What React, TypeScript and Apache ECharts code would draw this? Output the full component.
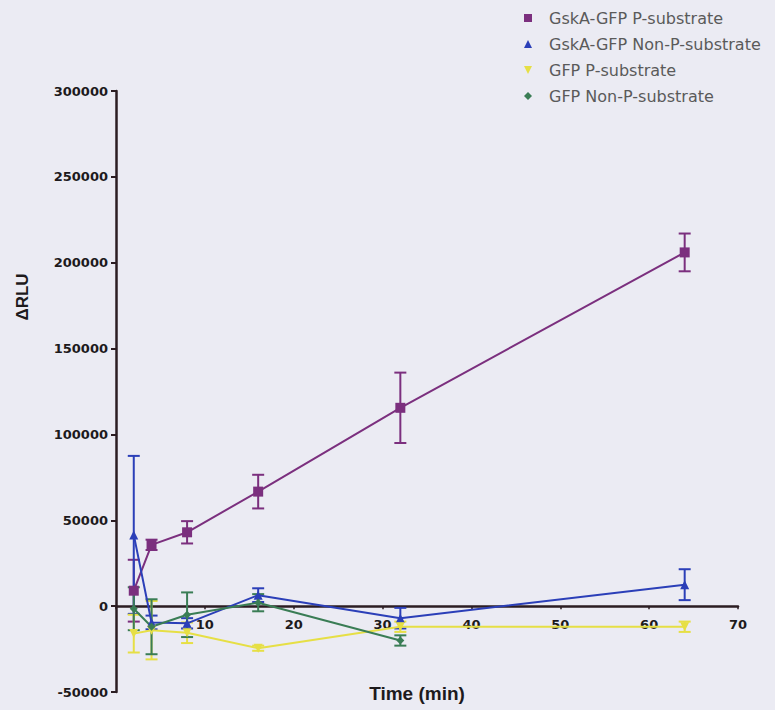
import React, { useEffect, useRef } from "react";
import * as echarts from "echarts";

const times = [2, 4, 8, 16, 32, 64];
const gskaP = [9000, 35700, 43000, 66700, 115500, 206000];
const gskaPErr = [18000, 3000, 6500, 9800, 20500, 11000];
const gskaNonP = [41500, -9500, -10000, 6400, -7000, 12500];
const gskaNonPErr = [46000, 4000, 3000, 4000, 6000, 9000];
const gfpP = [-16000, -14000, -15500, -24500, -12000, -12000];
const gfpPErr = [11000, 17000, 6000, 1500, 3000, 3000];
const gfpNonPTimes = [2, 4, 8, 16, 32];
const gfpNonP = [-1500, -12000, -5000, 2000, -20000];
const gfpNonPErr = [12500, 16000, 13000, 5000, 3000];

const seriesNames = [
  "GskA-GFP P-substrate",
  "GskA-GFP Non-P-substrate",
  "GFP P-substrate",
  "GFP Non-P-substrate",
];
const colors = ["#7b2f7e", "#2b3fb8", "#e6df45", "#3a7d55"];
const symbols = ["rect", "triangle", "path://M0,0 L10,0 L5,10 Z", "diamond"];
const symbolSizes = [10, 9, 9, 8];

const Y_MIN = -50000;
const Y_MAX = 300000;
const GRID_TOP = 91;
const GRID_BOTTOM = 18;
const CHART_H = 710;

export default function App() {
  const ref = useRef<HTMLDivElement>(null);
  useEffect(() => {
    if (!ref.current) return;
    const chart = echarts.init(ref.current, undefined, { renderer: "svg" });
    const sets = [
      { t: times, v: gskaP, e: gskaPErr },
      { t: times, v: gskaNonP, e: gskaNonPErr },
      { t: times, v: gfpP, e: gfpPErr },
      { t: gfpNonPTimes, v: gfpNonP, e: gfpNonPErr },
    ];
    const lineSeries: any[] = sets.map((s, i) => ({
      name: seriesNames[i],
      type: "line",
      data: s.t.map((t, j) => [t, s.v[j]]),
      symbol: symbols[i],
      symbolSize: symbolSizes[i],
      showSymbol: true,
      lineStyle: { color: colors[i], width: 2 },
      itemStyle: { color: colors[i] },
      z: 3,
    }));
    const errSeries: any[] = sets.map((s, i) => ({
      name: seriesNames[i] + " error",
      type: "custom",
      data: s.t.map((t, j) => [t, s.v[j], s.e[j]]),
      encode: { x: 0, y: 1 },
      z: 2,
      renderItem: (params: any, api: any) => {
        const x = api.value(0);
        const y = api.value(1);
        const e = api.value(2);
        const top = api.coord([x, y + e]);
        const bot = api.coord([x, y - e]);
        const w = 6;
        const style = { stroke: colors[i], lineWidth: 2 };
        return {
          type: "group",
          children: [
            { type: "line", shape: { x1: top[0], y1: top[1], x2: bot[0], y2: bot[1] }, style },
            { type: "line", shape: { x1: top[0] - w, y1: top[1], x2: top[0] + w, y2: top[1] }, style },
            { type: "line", shape: { x1: bot[0] - w, y1: bot[1], x2: bot[0] + w, y2: bot[1] }, style },
          ],
        };
      },
    }));
    const axisColor = "#2b1d22";
    const plotH = CHART_H - GRID_TOP - GRID_BOTTOM;
    const zeroOffset = -(plotH * (0 - Y_MIN)) / (Y_MAX - Y_MIN);
    chart.setOption({
      animation: false,
      backgroundColor: "#ebebf3",
      grid: { left: 116, top: GRID_TOP, right: 37, bottom: GRID_BOTTOM, containLabel: false },
      legend: {
        orient: "vertical",
        left: 519,
        top: 5,
        itemWidth: 8,
        itemHeight: 8,
        itemGap: 10,
        data: seriesNames.map((n, i) => ({ name: n, icon: symbols[i], itemStyle: { color: colors[i] } })),
        textStyle: {
          color: "#5a5a5a",
          fontSize: 16,
          fontFamily: "DejaVu Sans",
          lineHeight: 16,
          padding: [0, 0, 0, 12],
        },
      },
      xAxis: {
        type: "value",
        min: 0,
        max: 70,
        interval: 10,
        position: "bottom",
        offset: zeroOffset,
        axisLine: { onZero: false, lineStyle: { color: axisColor, width: 2.5 } },
        axisTick: { show: true, length: 3, lineStyle: { color: axisColor, width: 1.5 } },
        splitLine: { show: false },
        axisLabel: {
          margin: 12,
          color: "#1d1a1c",
          fontWeight: "bold",
          fontSize: 13,
          fontFamily: "DejaVu Sans",
          formatter: (v: number) => (v === 0 ? "" : String(v)),
        },
      },
      yAxis: {
        type: "value",
        min: Y_MIN,
        max: Y_MAX,
        interval: 50000,
        axisLine: { show: true, onZero: false, lineStyle: { color: axisColor, width: 2.5 } },
        axisTick: { show: true, length: 5, lineStyle: { color: axisColor, width: 2 } },
        splitLine: { show: false },
        axisLabel: {
          margin: 8,
          color: "#1d1a1c",
          fontWeight: "bold",
          fontSize: 13,
          fontFamily: "DejaVu Sans",
          formatter: (v: number) => String(v),
        },
      },
      graphic: [
        {
          type: "text",
          x: 22,
          y: 297,
          rotation: Math.PI / 2,
          style: {
            text: "ΔRLU",
            fill: "#1d1a1c",
            font: "bold 17px 'Liberation Sans'",
            textAlign: "center",
            textVerticalAlign: "middle",
          },
        },
        {
          type: "text",
          x: 417,
          y: 693,
          style: {
            text: "Time (min)",
            fill: "#1d1a1c",
            font: "bold 19px 'Liberation Sans'",
            textAlign: "center",
            textVerticalAlign: "middle",
          },
        },
      ],
      series: [...lineSeries, ...errSeries],
    });
    return () => chart.dispose();
  }, []);
  return (
    <div
      ref={ref}
      style={{ position: "fixed", left: 0, top: 0, width: 775, height: 710 }}
    />
  );
}
